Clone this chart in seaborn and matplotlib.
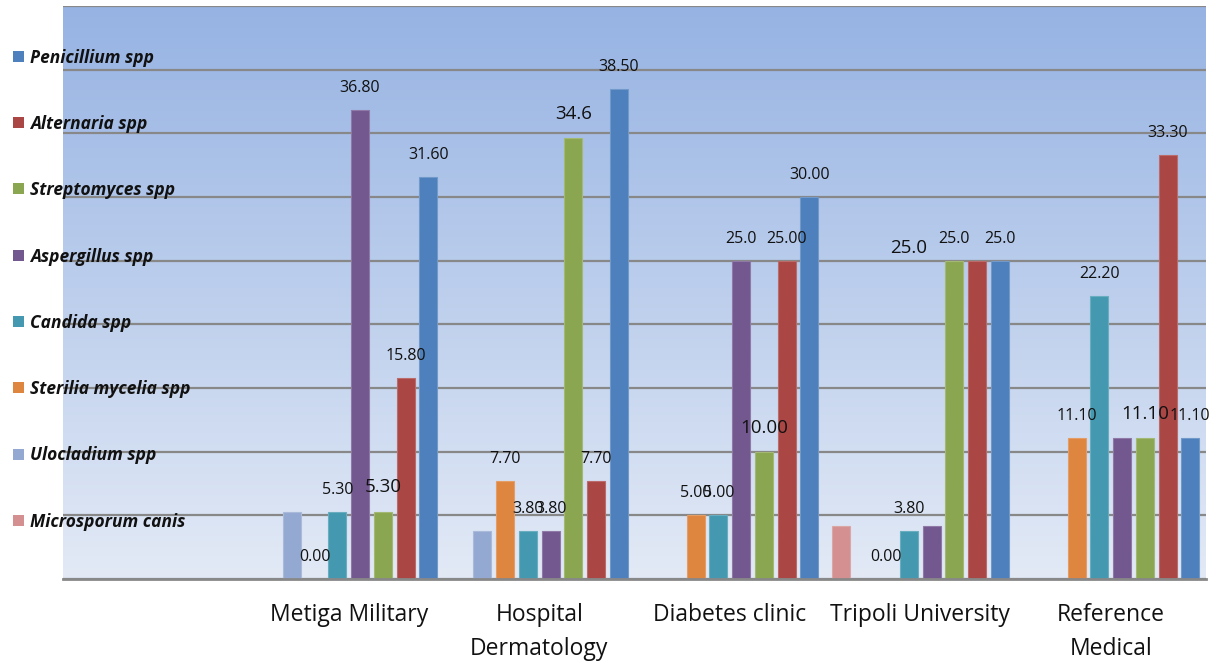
import numpy as np
import pandas as pd
import matplotlib
matplotlib.use("Agg")
import matplotlib.pyplot as plt
from matplotlib.colors import LinearSegmentedColormap, to_rgb
from matplotlib.patches import Rectangle
import seaborn as sns

# ---- data -------------------------------------------------------------
sites = ["Metiga Military", "Hospital\nDermatology", "Diabetes clinic",
         "Tripoli University", "Reference\nMedical"]
species = ["Microsporum canis", "Ulocladium spp", "Sterilia mycelia spp",
           "Candida spp", "Aspergillus spp", "Streptomyces spp",
           "Alternaria spp", "Penicillium spp"]

microsporum = [0.0, 0.0, 0.0, 4.2, 0.0]
ulocladium = [5.3, 3.8, 0.0, 0.0, 0.0]
sterilia = [0.0, 7.7, 5.0, 0.0, 11.1]
candida = [5.3, 3.8, 5.0, 3.8, 22.2]
aspergillus = [36.8, 3.8, 25.0, 4.2, 11.1]
streptomyces = [5.3, 34.6, 10.0, 25.0, 11.1]
alternaria = [15.8, 7.7, 25.0, 25.0, 33.3]
penicillium = [31.6, 38.5, 30.0, 25.0, 11.1]

series_values = [microsporum, ulocladium, sterilia, candida,
                 aspergillus, streptomyces, alternaria, penicillium]

bar_colors = ["#D49090", "#94A9D1", "#DE8540", "#4499B0",
              "#735890", "#8BA650", "#AA4644", "#4D80BC"]

# value labels: (site, species, text, large font)
value_labels = [
    (0, 2, "0.00", False), (0, 3, "5.30", False), (0, 4, "36.80", False),
    (0, 5, "5.30", True), (0, 6, "15.80", False), (0, 7, "31.60", False),
    (1, 2, "7.70", False), (1, 3, "3.80", False), (1, 4, "3.80", False),
    (1, 5, "34.6", True), (1, 6, "7.70", False), (1, 7, "38.50", False),
    (2, 2, "5.00", False), (2, 3, "5.00", False), (2, 4, "25.0", False),
    (2, 5, "10.00", True), (2, 6, "25.00", False), (2, 7, "30.00", False),
    (3, 2, "0.00", False), (3, 3, "3.80", False), (3, 5, "25.0", False),
    (3, 7, "25.0", False),
    (4, 2, "11.10", False), (4, 3, "22.20", False), (4, 5, "11.10", True),
    (4, 6, "33.30", False), (4, 7, "11.10", False),
]
# Alternaria label at Tripoli was dragged left over the Candida slot
moved_label = (3, 6, "25.0", 3)

df = pd.DataFrame({
    "site": np.repeat(sites, len(species)),
    "species": species * len(sites),
    "value": [series_values[j][i] for i in range(len(sites))
              for j in range(len(species))],
})

# ---- figure -----------------------------------------------------------
sns.set_style("white")
plt.rcParams["font.family"] = ["Open Sans", "DejaVu Sans"]

W, H = 1222, 664
fig = plt.figure(figsize=(W / 100, H / 100), dpi=100)
left, right, top, bottom = 63, 1206, 6, 579
ax = fig.add_axes([left / W, 1 - bottom / H, (right - left) / W, (bottom - top) / H])

# gradient plot-area fill, darker blue at the top
grad = np.linspace(0, 1, 256).reshape(-1, 1)
cmap = LinearSegmentedColormap.from_list("bg", ["#96B3E3", "#E3EAF6"])
ax.imshow(grad, extent=[-1.5, 4.5, 0, 45], aspect="auto", cmap=cmap,
          zorder=0, origin="upper")

sns.barplot(data=df, x="site", y="value", hue="species", order=sites,
            hue_order=species, palette=bar_colors, saturation=1,
            width=0.955, gap=0.2, errorbar=None, legend=False, ax=ax,
            zorder=2)

for patch in ax.patches:
    fc = np.array(to_rgb(patch.get_facecolor()))
    patch.set_edgecolor(tuple(fc + (1 - fc) * 0.2))
    patch.set_linewidth(0.8)

ax.set_xlim(-1.5, 4.5)
ax.set_ylim(0, 45)
ax.set_yticks(np.arange(0, 46, 5))
ax.set_yticklabels([])
ax.yaxis.grid(True, color="#888888", linewidth=1.6, zorder=1)
ax.set_axisbelow(True)
ax.tick_params(axis="both", length=0)
ax.tick_params(axis="x", pad=17, labelsize=16.5, labelcolor="#111111")
for lab in ax.get_xticklabels():
    lab.set_linespacing(1.55)
ax.set_xlabel("")
ax.set_ylabel("")
for side in ["top", "right", "left"]:
    ax.spines[side].set_visible(False)
ax.spines["bottom"].set_color("#888888")
ax.spines["bottom"].set_linewidth(2.0)

# value labels above bars
def bar_at(site, sp):
    return ax.containers[sp][site]

for site, sp, text, big in value_labels:
    b = bar_at(site, sp)
    x = b.get_x() + b.get_width() / 2
    h = b.get_height()
    ax.annotate(text, xy=(x, h), xytext=(0, 17.3 if big else 15.8),
                textcoords="offset points", ha="center", va="center",
                fontsize=13.5 if big else 11.5, color="#111111", zorder=5)

site, sp, text, slot = moved_label
b = bar_at(site, sp)
bx = bar_at(site, slot)
ax.annotate(text, xy=(bx.get_x() + bx.get_width() / 2, b.get_height()),
            xytext=(0, 9.4), textcoords="offset points", ha="center",
            va="center", fontsize=13.5, color="#111111", zorder=5)

# legend column on the left, Penicillium at the top
row0, pitch = 56.3, 66.3
for i, (name, col) in enumerate(zip(species[::-1], bar_colors[::-1])):
    yc = row0 + pitch * i
    fig.patches.append(Rectangle((13 / W, 1 - (yc + 5.5) / H), 11 / W, 11 / H,
                                 transform=fig.transFigure, facecolor=col,
                                 edgecolor="none", zorder=6))
    fig.text(30 / W, 1 - (yc + 6.3) / H, name, fontsize=12.5,
             fontweight="bold", fontstyle="italic", color="#111111",
             va="baseline", ha="left", zorder=7)

fig.savefig("out.png", dpi=100, facecolor="white")
